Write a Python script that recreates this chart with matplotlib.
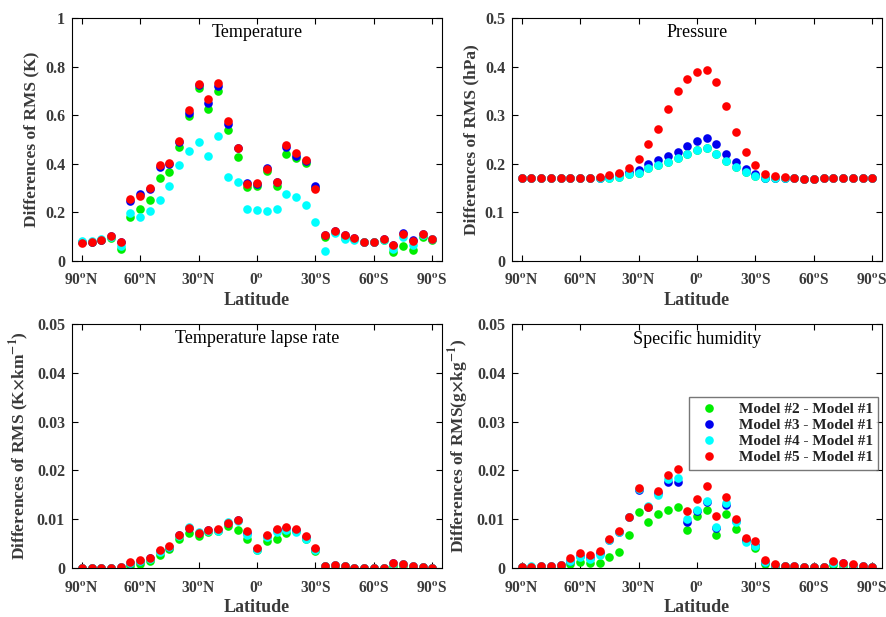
"""
RMS differences vs latitude, 4 panels
"""
import numpy as np
import matplotlib
matplotlib.use('Agg')
import matplotlib.pyplot as plt
import matplotlib as mpl

mpl.rcParams['font.family'] = ['Liberation Serif', 'DejaVu Serif']
mpl.rcParams['mathtext.fontset'] = 'stix'

lat = [90, 85, 80, 75, 70, 65, 60, 55, 50, 45, 40, 35, 30, 25, 20, 15, 10, 5, 0,
       -5, -10, -15, -20, -25, -30, -35, -40, -45, -50, -55, -60, -65, -70, -75, -80, -85, -90]
xtick_pos = [90, 60, 30, 0, -30, -60, -90]
xtick_lab = ['90$^\\mathbf{o}$N', '60$^\\mathbf{o}$N', '30$^\\mathbf{o}$N', '0$^\\mathbf{o}$',
             '30$^\\mathbf{o}$S', '60$^\\mathbf{o}$S', '90$^\\mathbf{o}$S']
labels = ['Model #2 - Model #1', 'Model #3 - Model #1', 'Model #4 - Model #1', 'Model #5 - Model #1']
colors = ['#00ee00', '#0000ee', '#00ffff', '#ff0000']

# Temperature
t2 = [0.080,0.077,0.085,0.096,0.051,0.179,0.215,0.253,0.341,0.368,0.471,0.595,0.711,0.627,0.700,0.540,0.427,0.305,0.308,
      0.370,0.307,0.441,0.423,0.405,0.301,0.099,0.120,0.096,0.089,0.079,0.080,0.085,0.037,0.063,0.044,0.100,0.086]
t3 = [0.080,0.078,0.088,0.104,0.079,0.247,0.274,0.297,0.386,0.400,0.489,0.610,0.726,0.651,0.721,0.564,0.464,0.321,0.315,
      0.382,0.327,0.468,0.434,0.411,0.307,0.108,0.123,0.107,0.096,0.079,0.080,0.090,0.067,0.116,0.085,0.113,0.090]
t4 = [0.082,0.082,0.090,0.100,0.063,0.197,0.179,0.207,0.249,0.307,0.397,0.451,0.490,0.432,0.515,0.347,0.325,0.214,0.208,
      0.207,0.214,0.274,0.263,0.232,0.159,0.042,0.116,0.090,0.085,0.079,0.080,0.088,0.051,0.099,0.064,0.105,0.090]
t5 = [0.074,0.077,0.088,0.104,0.079,0.256,0.266,0.300,0.395,0.404,0.495,0.623,0.729,0.666,0.732,0.578,0.464,0.318,0.321,
      0.377,0.327,0.477,0.444,0.415,0.297,0.105,0.123,0.107,0.096,0.079,0.079,0.090,0.067,0.112,0.082,0.111,0.090]

# Pressure
p2 = [0.170,0.170,0.170,0.170,0.170,0.170,0.170,0.170,0.170,0.170,0.173,0.179,0.181,0.191,0.197,0.204,0.211,0.220,0.228,
      0.232,0.220,0.206,0.193,0.184,0.175,0.170,0.170,0.170,0.170,0.169,0.169,0.170,0.170,0.170,0.170,0.170,0.170]
p3 = [0.170,0.170,0.170,0.170,0.170,0.170,0.170,0.170,0.170,0.172,0.178,0.184,0.188,0.199,0.208,0.216,0.225,0.237,0.247,
      0.253,0.241,0.221,0.203,0.189,0.180,0.171,0.170,0.170,0.170,0.169,0.169,0.170,0.170,0.170,0.170,0.170,0.170]
p4 = [0.170,0.170,0.170,0.170,0.170,0.170,0.170,0.170,0.170,0.170,0.173,0.179,0.181,0.191,0.197,0.204,0.211,0.220,0.228,
      0.232,0.220,0.206,0.193,0.184,0.175,0.170,0.170,0.170,0.170,0.169,0.169,0.170,0.170,0.170,0.170,0.170,0.170]
p5 = [0.170,0.170,0.170,0.170,0.170,0.170,0.170,0.171,0.173,0.176,0.181,0.191,0.209,0.241,0.272,0.312,0.349,0.374,0.388,
      0.393,0.368,0.318,0.266,0.225,0.198,0.180,0.175,0.173,0.170,0.169,0.169,0.170,0.170,0.170,0.170,0.170,0.170]

# Temperature lapse rate
l2 = [0.0000,0.0000,0.0000,0.0000,0.0001,0.0005,0.0009,0.0014,0.0027,0.0039,0.0060,0.0072,0.0066,0.0074,0.0076,0.0087,0.0078,0.0060,0.0036,
      0.0055,0.0060,0.0071,0.0076,0.0060,0.0035,0.0004,0.0005,0.0004,0.0001,0.0000,0.0000,0.0001,0.0005,0.0004,0.0003,0.0002,0.0001]
l3 = [0.0000,0.0000,0.0000,0.0001,0.0002,0.0011,0.0015,0.0020,0.0035,0.0044,0.0067,0.0082,0.0072,0.0077,0.0078,0.0092,0.0098,0.0072,0.0039,
      0.0066,0.0077,0.0082,0.0078,0.0064,0.0039,0.0005,0.0006,0.0005,0.0001,0.0000,0.0000,0.0001,0.0010,0.0009,0.0004,0.0002,0.0001]
l4 = [0.0000,0.0000,0.0000,0.0001,0.0002,0.0010,0.0014,0.0019,0.0033,0.0043,0.0066,0.0084,0.0073,0.0076,0.0076,0.0094,0.0097,0.0068,0.0036,
      0.0064,0.0073,0.0077,0.0073,0.0059,0.0036,0.0005,0.0006,0.0005,0.0001,0.0000,0.0000,0.0001,0.0009,0.0008,0.0004,0.0002,0.0001]
l5 = [0.0000,0.0000,0.0000,0.0001,0.0002,0.0012,0.0016,0.0021,0.0036,0.0045,0.0068,0.0082,0.0071,0.0077,0.0079,0.0092,0.0099,0.0075,0.0041,
      0.0068,0.0079,0.0084,0.0079,0.0066,0.0040,0.0005,0.0006,0.0005,0.0001,0.0000,0.0000,0.0001,0.0010,0.0009,0.0004,0.0002,0.0001]

# Specific humidity
q2 = [0.0002,0.0002,0.0003,0.0003,0.0004,0.0008,0.0012,0.0010,0.0011,0.0023,0.0033,0.0067,0.0115,0.0095,0.0111,0.0118,0.0126,0.0077,0.0106,
      0.0119,0.0067,0.0110,0.0080,0.0058,0.0042,0.0008,0.0005,0.0004,0.0003,0.0002,0.0002,0.0003,0.0007,0.0004,0.0003,0.0003,0.0002]
q3 = [0.0003,0.0003,0.0005,0.0005,0.0006,0.0015,0.0024,0.0021,0.0030,0.0057,0.0074,0.0105,0.0160,0.0125,0.0153,0.0176,0.0176,0.0095,0.0116,
      0.0135,0.0082,0.0130,0.0097,0.0058,0.0048,0.0013,0.0007,0.0005,0.0004,0.0002,0.0003,0.0003,0.0012,0.0010,0.0007,0.0004,0.0003]
q4 = [0.0003,0.0004,0.0005,0.0005,0.0006,0.0014,0.0022,0.0019,0.0027,0.0057,0.0073,0.0105,0.0162,0.0127,0.0149,0.0182,0.0185,0.0101,0.0119,
      0.0138,0.0084,0.0133,0.0095,0.0053,0.0045,0.0012,0.0007,0.0005,0.0004,0.0002,0.0003,0.0003,0.0011,0.0009,0.0007,0.0004,0.0003]
q5 = [0.0003,0.0003,0.0005,0.0005,0.0006,0.0020,0.0030,0.0026,0.0034,0.0060,0.0075,0.0105,0.0164,0.0126,0.0157,0.0190,0.0202,0.0116,0.0142,
      0.0168,0.0107,0.0145,0.0101,0.0062,0.0055,0.0017,0.0008,0.0005,0.0004,0.0002,0.0003,0.0003,0.0014,0.0011,0.0008,0.0004,0.0003]

panels = [
    ('Temperature', 'Differences of RMS (K)', [t2, t3, t4, t5], 1.0, [0, 0.2, 0.4, 0.6, 0.8, 1], ['0', '0.2', '0.4', '0.6', '0.8', '1']),
    ('Pressure', 'Differences of RMS (hPa)', [p2, p3, p4, p5], 0.5, [0, 0.1, 0.2, 0.3, 0.4, 0.5], ['0', '0.1', '0.2', '0.3', '0.4', '0.5']),
    ('Temperature lapse rate', 'Differences of RMS (K$\\mathbf{\\times}$km$^{\\mathbf{-1}}$)', [l2, l3, l4, l5], 0.05,
     [0, 0.01, 0.02, 0.03, 0.04, 0.05], ['0', '0.01', '0.02', '0.03', '0.04', '0.05']),
    ('Specific humidity', 'Differences of RMS(g$\\mathbf{\\times}$kg$^{\\mathbf{-1}}$)', [q2, q3, q4, q5], 0.05,
     [0, 0.01, 0.02, 0.03, 0.04, 0.05], ['0', '0.01', '0.02', '0.03', '0.04', '0.05']),
]

rects = [[0.0813, 0.5770, 0.4176, 0.3938], [0.5779, 0.5770, 0.4176, 0.3938],
         [0.0813, 0.0794, 0.4176, 0.3955], [0.5779, 0.0794, 0.4176, 0.3955]]

txtcol = '#3a3a3a'
fig = plt.figure(figsize=(8.86, 6.17), dpi=100)

for i, (title, ylab, series, ymax, yt, ytl) in enumerate(panels):
    ax = fig.add_axes(rects[i])
    for s, c, lb in zip(series, colors, labels):
        ax.plot(lat, s, 'o', color=c, ms=6.2, mec='none', label=lb)
    ax.set_xlim(95, -95)
    ax.set_ylim(0, ymax)
    ax.set_xticks(xtick_pos)
    ax.set_xticklabels(xtick_lab)
    ax.set_yticks(yt)
    ax.set_yticklabels(ytl)
    ax.tick_params(direction='in', top=True, right=True, length=4, width=0.8,
                   labelsize=11.5, labelcolor=txtcol, pad=5)
    ax.tick_params(axis='x', pad=9, labelsize=11.2)
    for t in ax.get_xticklabels() + ax.get_yticklabels():
        t.set_fontweight('bold')
    for sp in ax.spines.values():
        sp.set_linewidth(0.8)
    ax.set_xlabel('Latitude', fontsize=13, fontweight='bold', color=txtcol, labelpad=2)
    ax.set_ylabel(ylab, fontsize=12.5, fontweight='bold', color=txtcol, labelpad=4)
    ax.text(0.5, 0.94, title, transform=ax.transAxes, ha='center', va='center', fontsize=13)
    if i == 3:
        leg = ax.legend(loc='upper right', bbox_to_anchor=(0.99, 0.70), fancybox=False,
                        prop={'weight': 'bold', 'size': 11}, handletextpad=1.0,
                        borderpad=0.35, labelspacing=0.15, handlelength=1.9, borderaxespad=0)
        leg.get_frame().set_edgecolor('#555555')
        leg.get_frame().set_linewidth(1.0)
        for t in leg.get_texts():
            t.set_color('#222222')

plt.savefig('out.png', dpi=100)
